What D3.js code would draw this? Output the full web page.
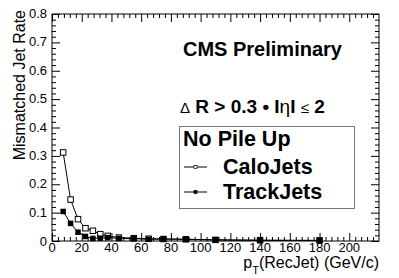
<!DOCTYPE html>
<html>
<head>
<meta charset="utf-8">
<script src="https://cdn.jsdelivr.net/npm/d3@7"></script>
<style>
body { margin: 0; background: #fff; }
text { font-family: "Liberation Sans", Arial, sans-serif; }
</style>
</head>
<body>
<svg id="chart" width="399" height="278"></svg>
<script>
// bin centres in pT (GeV/c)
var ptBins = [7.5, 12.5, 17.5, 22.5, 27.5, 32.5, 37.5, 45, 55, 65, 75, 90, 110, 140, 180];
var caloRate = [0.312, 0.146, 0.077, 0.045, 0.036, 0.024, 0.018, 0.012, 0.010, 0.008, 0.007, 0.006, 0.004, 0.003, 0.002];
var trackRate = [0.104, 0.062, 0.031, 0.016, 0.009, 0.010, 0.012, 0.009, 0.008, 0.006, 0.007, 0.006, 0.004, 0.002, 0.002];
var xTicks = [0, 20, 40, 60, 80, 100, 120, 140, 160, 180, 200];
var yTicks = [0, 0.1, 0.2, 0.3, 0.4, 0.5, 0.6, 0.7, 0.8];

var svg = d3.select('#chart');
var padL = 52, padR = 379, padT = 14, padB = 241;

var x = d3.scaleLinear().domain([0, 220]).range([padL, padR]);
var y = d3.scaleLinear().domain([0, 0.8]).range([padB, padT]);

// minor ticks
var xMinor = d3.range(0, 220, 4).filter(function(v) { return v % 20 != 0; });
var yMinor = d3.range(0, 0.8, 0.02).filter(function(v) { return Math.abs(v * 10 - Math.round(v * 10)) > 1e-6; });

function tickAxis(axis, values, size) {
	return axis.tickValues(values).tickSize(size).tickFormat('');
}

var frame = svg.append('g').attr('class', 'frame');

frame.append('g').attr('transform', 'translate(0,' + padB + ')')
	.call(tickAxis(d3.axisTop(x), xTicks, 8));
frame.append('g').attr('transform', 'translate(0,' + padB + ')')
	.call(tickAxis(d3.axisTop(x), xMinor, 4));
frame.append('g').attr('transform', 'translate(0,' + padT + ')')
	.call(tickAxis(d3.axisBottom(x), xTicks, 8));
frame.append('g').attr('transform', 'translate(0,' + padT + ')')
	.call(tickAxis(d3.axisBottom(x), xMinor, 4));
frame.append('g').attr('transform', 'translate(' + padL + ',0)')
	.call(tickAxis(d3.axisRight(y), yTicks, 8));
frame.append('g').attr('transform', 'translate(' + padL + ',0)')
	.call(tickAxis(d3.axisRight(y), yMinor, 4));
frame.append('g').attr('transform', 'translate(' + padR + ',0)')
	.call(tickAxis(d3.axisLeft(y), yTicks, 8));
frame.append('g').attr('transform', 'translate(' + padR + ',0)')
	.call(tickAxis(d3.axisLeft(y), yMinor, 4));

frame.selectAll('.domain').remove();
frame.selectAll('line').attr('stroke', '#000').attr('stroke-width', 1);
frame.append('rect')
	.attr('x', padL).attr('y', padT)
	.attr('width', padR - padL).attr('height', padB - padT)
	.attr('fill', 'none').attr('stroke', '#000').attr('stroke-width', 1);

// tick labels
svg.append('g').selectAll('text').data(xTicks).enter().append('text')
	.attr('x', function(d) { return x(d); })
	.attr('y', 252)
	.attr('text-anchor', 'middle')
	.attr('font-size', 13)
	.text(function(d) { return d; });
svg.append('g').selectAll('text').data(yTicks).enter().append('text')
	.attr('x', padL - 5)
	.attr('y', function(d) { return y(d) + (d == 0 ? 5 : 4); })
	.attr('text-anchor', 'end')
	.attr('font-size', 13)
	.text(function(d) { return d == 0 ? '0' : d.toFixed(1); });

// axis titles
svg.append('text')
	.attr('transform', 'translate(25,10) rotate(-90)')
	.attr('text-anchor', 'end')
	.attr('font-size', 16)
	.text('Mismatched Jet Rate');
var xt = svg.append('text')
	.attr('x', padR).attr('y', 268)
	.attr('text-anchor', 'end')
	.attr('font-size', 16);
xt.append('tspan').text('p');
xt.append('tspan').attr('dy', 6).attr('font-size', 11).text('T');
xt.append('tspan').attr('dy', -6).text('(RecJet) (GeV/c)');

// series
var line = d3.line()
	.x(function(d) { return x(d[0]); })
	.y(function(d) { return y(d[1]); });
var calo = d3.zip(ptBins, caloRate);
var track = d3.zip(ptBins, trackRate);

svg.append('path').datum(calo).attr('d', line)
	.attr('fill', 'none').attr('stroke', '#000').attr('stroke-width', 1);
svg.append('path').datum(track).attr('d', line)
	.attr('fill', 'none').attr('stroke', '#000').attr('stroke-width', 1);

var ms = 5.5;
svg.append('g').selectAll('rect').data(calo).enter().append('rect')
	.attr('x', function(d) { return x(d[0]) - ms / 2; })
	.attr('y', function(d) { return y(d[1]) - ms / 2; })
	.attr('width', ms).attr('height', ms)
	.attr('fill', '#fff').attr('stroke', '#000').attr('stroke-width', 1);
svg.append('g').selectAll('rect').data(track).enter().append('rect')
	.attr('x', function(d) { return x(d[0]) - ms / 2; })
	.attr('y', function(d) { return y(d[1]) - ms / 2; })
	.attr('width', ms).attr('height', ms)
	.attr('fill', '#000');

// labels
svg.append('text')
	.attr('x', 183).attr('y', 56)
	.attr('font-size', 20).attr('font-weight', 'bold')
	.text('CMS Preliminary');
var cut = svg.append('text')
	.attr('x', 180).attr('y', 113)
	.attr('font-size', 19).attr('font-weight', 'bold');
cut.append('tspan').attr('font-weight', 'normal').attr('font-size', 15).text('Δ');
cut.append('tspan').text(' R > 0.3 • I');
cut.append('tspan').attr('font-weight', 'normal').text('η');
cut.append('tspan').text('I ');
cut.append('tspan').attr('font-weight', 'normal').attr('font-size', 15).text('≤');
cut.append('tspan').text(' 2');

// legend
var legend = svg.append('g');
legend.append('rect')
	.attr('x', 179.5).attr('y', 126.5)
	.attr('width', 175).attr('height', 82)
	.attr('fill', '#fff').attr('stroke', '#777').attr('stroke-width', 1);
legend.append('text')
	.attr('x', 183).attr('y', 146)
	.attr('font-size', 21.5).attr('font-weight', 'bold')
	.text('No Pile Up');
var entries = [
	{ label: 'CaloJets', y: 167, open: true },
	{ label: 'TrackJets', y: 192, open: false }
];
var entry = legend.selectAll('.entry').data(entries).enter().append('g');
entry.append('line')
	.attr('x1', 184).attr('x2', 207)
	.attr('y1', function(d) { return d.y; }).attr('y2', function(d) { return d.y; })
	.attr('stroke', '#000');
entry.append('rect')
	.attr('x', 194).attr('y', function(d) { return d.y - 1.5; })
	.attr('width', 3).attr('height', 3)
	.attr('fill', function(d) { return d.open ? '#fff' : '#000'; })
	.attr('stroke', '#000').attr('stroke-width', 0.7);
entry.append('text')
	.attr('x', 223).attr('y', function(d) { return d.y + 7; })
	.attr('font-size', 21.5).attr('font-weight', 'bold')
	.text(function(d) { return d.label; });
</script>
</body>
</html>
